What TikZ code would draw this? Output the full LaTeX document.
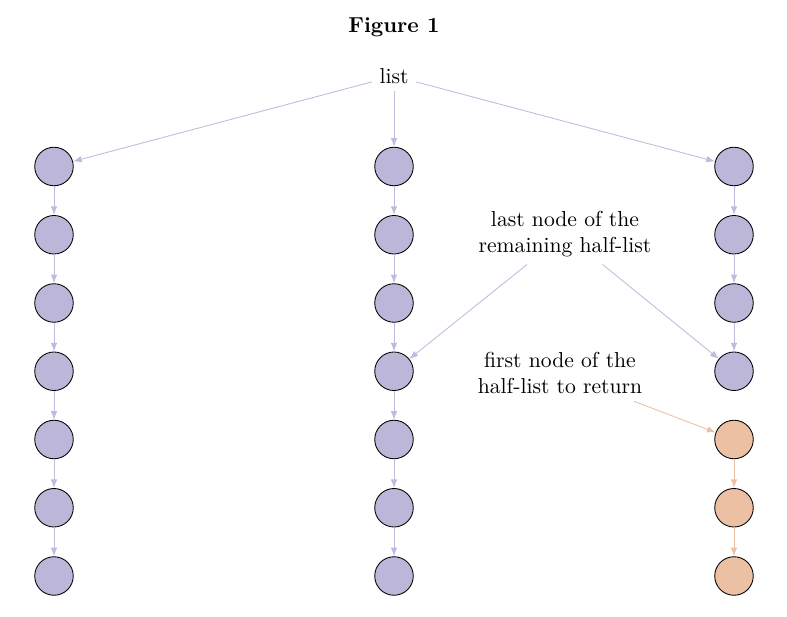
\documentclass[tikz,border=0pt]{standalone}
\usetikzlibrary{arrows.meta}
\definecolor{halfpurple}{RGB}{188,183,217}
\definecolor{halforange}{RGB}{236,193,163}
\definecolor{linkpurple}{RGB}{192,187,222}
\definecolor{linkorange}{RGB}{236,192,166}
\begin{document}
\begin{tikzpicture}[x=0.462pt,y=-0.462pt]
    \tikzset{
      cell/.style={circle,draw=black,fill=halfpurple,minimum size=17.8pt,inner sep=0pt},
      tailcell/.style={cell,fill=halforange},
      link/.style={draw=linkpurple,-{Latex[length=4pt,width=3pt]}},
      taillink/.style={draw=linkorange,-{Latex[length=4pt,width=3pt]}}
    }
    \useasboundingbox (0,0) rectangle (787,617);
    \node (title) at (394,27) {\textbf{Figure 1}};
    \node (list) at (394,76) {list};
    % first column
    \node [cell] (a1) at (54,166.5) {};
    \node [cell] (a2) at (54,234.75) {};
    \node [cell] (a3) at (54,303) {};
    \node [cell] (a4) at (54,371.25) {};
    \node [cell] (a5) at (54,439.5) {};
    \node [cell] (a6) at (54,507.75) {};
    \node [cell] (a7) at (54,576) {};
    % second column
    \node [cell] (b1) at (394,166.5) {};
    \node [cell] (b2) at (394,234.75) {};
    \node [cell] (b3) at (394,303) {};
    \node [cell] (b4) at (394,371.25) {};
    \node [cell] (b5) at (394,439.5) {};
    \node [cell] (b6) at (394,507.75) {};
    \node [cell] (b7) at (394,576) {};
    % third column
    \node [cell] (c1) at (734,166.5) {};
    \node [cell] (c2) at (734,234.75) {};
    \node [cell] (c3) at (734,303) {};
    \node [cell] (c4) at (734,371.25) {};
    \node [tailcell] (c5) at (734,439.5) {};
    \node [tailcell] (c6) at (734,507.75) {};
    \node [tailcell] (c7) at (734,576) {};
    \node [align=center] (lastnote) at (565,234) {last node of the\\remaining half-list};
    \node [align=center] (firstnote) at (560,373) {first node of the\\half-list to return};
    \draw [link] (list) -- (a1);
    \draw [link] (list) -- (b1);
    \draw [link] (list) -- (c1);
    \draw [link] (a1) -- (a2);
    \draw [link] (a2) -- (a3);
    \draw [link] (a3) -- (a4);
    \draw [link] (a4) -- (a5);
    \draw [link] (a5) -- (a6);
    \draw [link] (a6) -- (a7);
    \draw [link] (b1) -- (b2);
    \draw [link] (b2) -- (b3);
    \draw [link] (b3) -- (b4);
    \draw [link] (b4) -- (b5);
    \draw [link] (b5) -- (b6);
    \draw [link] (b6) -- (b7);
    \draw [link] (c1) -- (c2);
    \draw [link] (c2) -- (c3);
    \draw [link] (c3) -- (c4);
    \draw [taillink] (c5) -- (c6);
    \draw [taillink] (c6) -- (c7);
    \draw [link] (lastnote) -- (b4);
    \draw [link] (lastnote) -- (c4);
    \draw [taillink] (firstnote) -- (c5);
\end{tikzpicture}
\end{document}
